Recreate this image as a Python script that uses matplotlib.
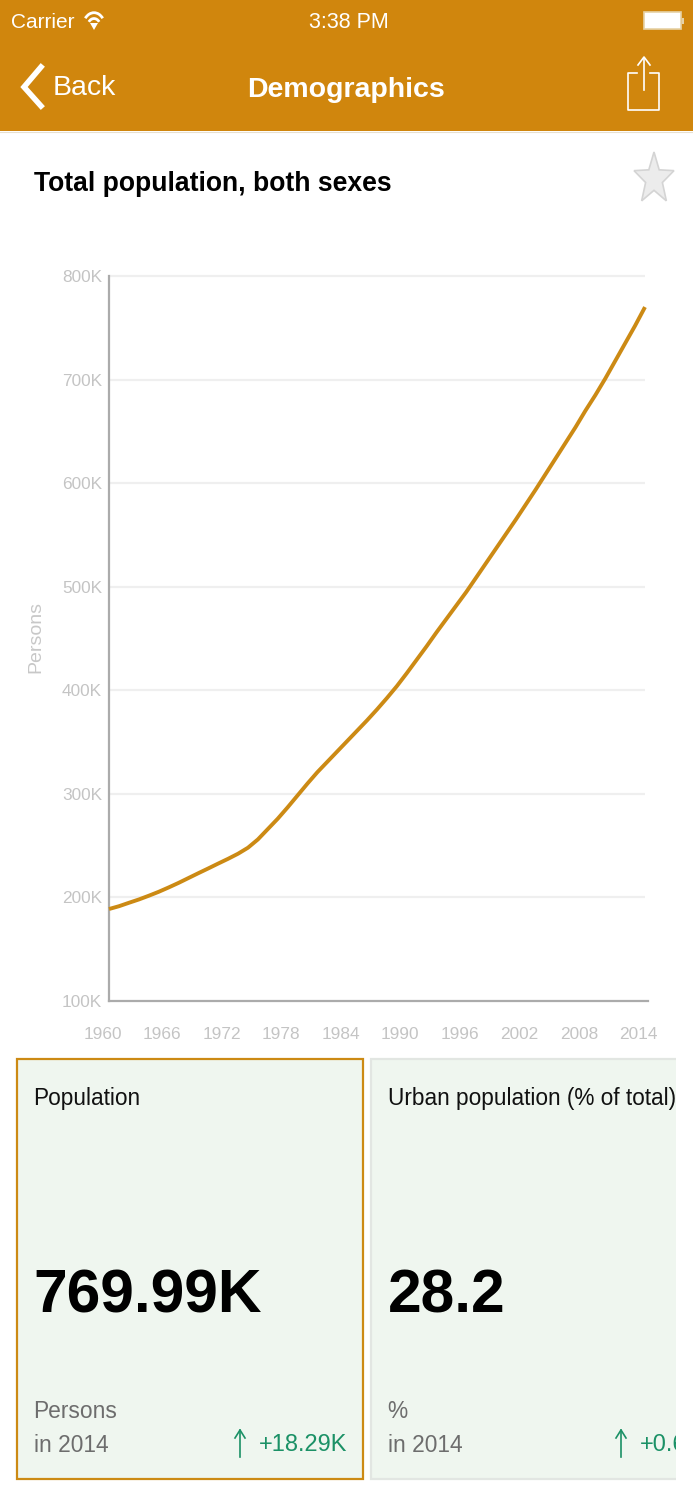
import numpy as np
import matplotlib
matplotlib.use('Agg')
import matplotlib.pyplot as plt
from matplotlib.patches import Rectangle, Polygon, Arc
from matplotlib.transforms import ScaledTranslation

plt.rcParams['font.family'] = ['Liberation Sans', 'DejaVu Sans']

# values, in thousands of persons, one per year from 1960
years = list(range(1960, 2015))
population = [188.8, 191.5, 194.8, 198, 201.6, 205.4, 209.6, 214, 218.7, 223.4,
              228, 232.7, 237.3, 242.2, 248, 256, 266, 276, 287, 298.5,
              310, 321, 331, 341, 351, 361, 371, 381.5, 392.5, 404,
              416.5, 429.5, 442.5, 456, 469, 482, 495, 509, 523, 537,
              551, 565, 579.5, 594, 609, 624, 639, 654, 670, 685,
              701, 718, 735, 752, 770]
x_ticks = [1960, 1966, 1972, 1978, 1984, 1990, 1996, 2002, 2008, 2014]
y_ticks = [100, 200, 300, 400, 500, 600, 700, 800]
y_labels = ['100K', '200K', '300K', '400K', '500K', '600K', '700K', '800K']

cards = ['Population', 'Urban population (% of total)']
card_values = ['769.99K', '28.2']
card_units = ['Persons', '%']
card_years = ['in 2014', 'in 2014']
card_changes = ['+18.29K', '+0.62']

W, H = 693, 1500
ORANGE = '#d0860d'
LINE = '#cc8a14'
TICK = '#c4c4c4'
GREEN = '#1b9166'
CARD = '#eff6ef'

fig = plt.figure(figsize=(W / 100, H / 100), dpi=100, facecolor='white')

# full page layer in pixel coordinates for the phone screen around the chart
ui = fig.add_axes([0, 0, 1, 1])
ui.set_xlim(0, W)
ui.set_ylim(H, 0)
ui.axis('off')

ui.add_patch(Rectangle((0, 0), W, 131, fc=ORANGE, ec='none'))
ui.plot([0, W], [131.5, 131.5], color='#e8e0d0', lw=0.8)

ui.text(11, 23, 'Carrier', color='white', fontsize=15, va='center')
ui.text(349, 23, '3:38 PM', color='white', fontsize=15.5, ha='center', va='center')
ui.text(84, 88, 'Back', color='white', fontsize=20.5, ha='center', va='center')
ui.text(346, 90, 'Demographics', color='white', fontsize=20.5, weight='bold', ha='center', va='center')

# wifi
for d in [22, 13]:
    ui.add_patch(Arc((94, 27), d, d * 1.3, theta1=225, theta2=315, color='white', lw=2))
ui.add_patch(Polygon([[90, 23], [98, 23], [94, 30]], fc='white', ec='none'))

# battery
ui.add_patch(Rectangle((644, 12), 37, 17, fc='white', ec='#e6d2a6', lw=1.2))
ui.add_patch(Rectangle((682, 18), 2, 6, fc='#e6d2a6', ec='none'))

# back chevron
ui.plot([41, 24, 41], [67, 87, 106], color='white', lw=4, solid_joinstyle='miter')

# share icon
ui.plot([637, 628, 628, 659, 659, 650], [73, 73, 110, 110, 73, 73], color='white', lw=1.2)
ui.plot([644, 644], [58, 90], color='white', lw=1.2)
ui.plot([638, 644, 650], [65, 57, 65], color='white', lw=1.2)

ui.text(34, 184, 'Total population, both sexes', color='black', fontsize=19.1, weight='bold', va='center')

# favourite star
angles = np.deg2rad(90 + 36 * np.arange(10))
radii = np.array([1, 0.42] * 5)
star = np.c_[654 + 21 * radii * np.cos(angles), 179 - 27 * radii * np.sin(angles)]
ui.add_patch(Polygon(star, fc='#ececec', ec='#d4d4d4', lw=1.2))

# cards, the second one runs off the scroll view
card_x = [17, 371]
card_w = [346, 340]
card_edge = [LINE, '#e2e6e2']
change_x = [259, 640]
arrow_x = [240, 621]
clip = Rectangle((0, 0), 676, H, transform=ui.transData)
for i in range(2):
    box = Rectangle((card_x[i], 1058.5), card_w[i], 420, fc=CARD, ec=card_edge[i], lw=1.6)
    ui.add_patch(box)
    box.set_clip_path(clip)
    tx = card_x[i] + 16.5
    texts = [
        ui.text(tx, 1098, cards[i], color='#111111', fontsize=16.3, va='center'),
        ui.text(tx, 1297, card_values[i], color='black', fontsize=43.6, weight='bold', va='center'),
        ui.text(tx, 1412, card_units[i], color='#6d6d6d', fontsize=16.4, va='center'),
        ui.text(tx, 1445, card_years[i], color='#6d6d6d', fontsize=16.4, va='center'),
        ui.text(change_x[i], 1445, card_changes[i], color=GREEN, fontsize=17, va='center'),
    ]
    for t in texts:
        t.set_clip_on(True)
        t.set_clip_path(clip)
    ui.plot([arrow_x[i], arrow_x[i]], [1430, 1457], color=GREEN, lw=1.2)
    ui.plot([arrow_x[i] - 5, arrow_x[i], arrow_x[i] + 5], [1438, 1430, 1438], color=GREEN, lw=1.2)

# the chart itself
left, right, top, bottom = 109, 648, 276, 1001
ax = fig.add_axes([left / W, 1 - bottom / H, (right - left) / W, (bottom - top) / H])
ax.patch.set_alpha(0)
ax.set_xlim(1960, 1960 + 54 * (right - left) / 536)
ax.set_ylim(100, 800)
ax.hlines(y_ticks[1:], 1960, 2014, color='#efefef', lw=1.6, zorder=1, clip_on=False)
ax.plot(years, population, color=LINE, lw=2.8, zorder=3, solid_capstyle='butt', clip_on=False)

ax.set_xticks(x_ticks)
ax.set_yticks(y_ticks)
ax.set_yticklabels(y_labels)
ax.tick_params(length=0, labelsize=12.4, labelcolor=TICK, pad=0)
shift_x = ScaledTranslation(-6.5 / 100, -26 / 100, fig.dpi_scale_trans)
shift_y = ScaledTranslation(-7 / 100, 0, fig.dpi_scale_trans)
for lab in ax.get_xticklabels():
    lab.set_transform(lab.get_transform() + shift_x)
for lab in ax.get_yticklabels():
    lab.set_transform(lab.get_transform() + shift_y)

ax.set_ylabel('Persons', color='#c8c8c8', fontsize=14)
ax.yaxis.set_label_coords((44 - left) / (right - left), (bottom - 637) / (bottom - top))

for side in ['top', 'right']:
    ax.spines[side].set_visible(False)
for side in ['left', 'bottom']:
    ax.spines[side].set_color('#ababab')
    ax.spines[side].set_linewidth(1.6)

fig.savefig('out.png', dpi=100)
